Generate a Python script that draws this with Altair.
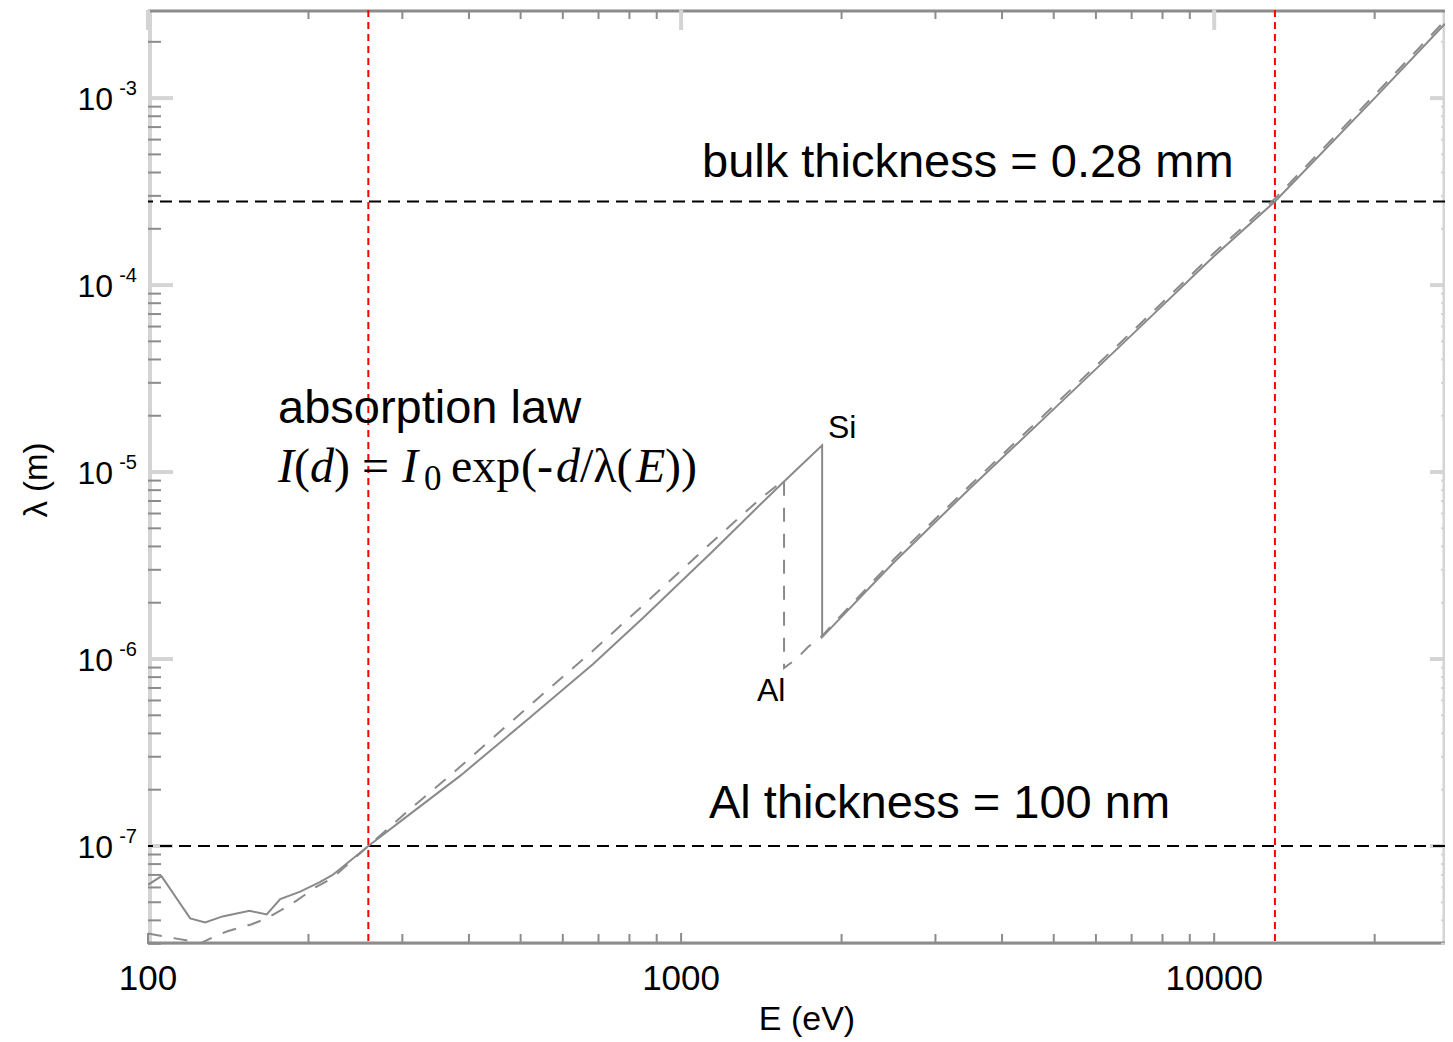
import altair as alt
import pandas as pd

# ---------------- data ----------------
# Si attenuation length (solid grey)
si_E = [100, 106, 120, 128, 138, 155, 167, 177, 193, 210, 222, 259,
        310, 385, 514, 684, 849, 1149, 1400, 1560, 1839,
        1839, 2500, 3500, 5000, 7000, 10000, 13000, 20000, 27100]
si_lam = [6.2e-8, 6.9e-8, 4.1e-8, 3.9e-8, 4.2e-8, 4.5e-8, 4.3e-8, 5.2e-8, 5.7e-8, 6.4e-8, 7.0e-8, 1.0e-7,
          1.48e-7, 2.37e-7, 4.72e-7, 9.4e-7, 1.66e-6, 3.79e-6, 6.6e-6, 8.9e-6, 1.39e-5,
          1.31e-6, 3.26e-6, 8.3e-6, 2.17e-5, 5.4e-5, 1.43e-4, 2.8e-4, 1.0e-3, 2.5e-3]

# Al attenuation length (dashed grey)
al_E = [100, 106, 120, 125, 134, 141, 156, 167, 178, 190, 206, 222, 259,
        310, 385, 514, 684, 849, 1149, 1400, 1560,
        1560, 1651, 1730, 1839,
        2500, 3500, 5000, 7000, 10000, 13000, 20000, 27100]
al_lam = [3.4e-8, 3.3e-8, 3.1e-8, 3.0e-8, 3.3e-8, 3.5e-8, 3.8e-8, 4.1e-8, 4.55e-8, 5.1e-8, 6.0e-8, 6.75e-8, 1.0e-7,
          1.57e-7, 2.65e-7, 5.48e-7, 1.11e-6, 1.94e-6, 4.28e-6, 7.1e-6, 9.1e-6,
          8.95e-7, 1.01e-6, 1.16e-6, 1.33e-6,
          3.39e-6, 8.6e-6, 2.26e-5, 5.6e-5, 1.49e-4, 2.9e-4, 1.04e-3, 2.6e-3]

# reference lines
vline_E = [259, 13000]          # red dotted verticals
hline_lam = [1.0e-7, 2.8e-4]    # black dashed horizontals

# tick labels
x_tick_vals = [100, 1000, 10000]
x_tick_text = ["100", "1000", "10000"]
y_tick_vals = [1e-7, 1e-6, 1e-5, 1e-4, 1e-3]
y_tick_exp = ["-7", "-6", "-5", "-4", "-3"]

# ---------------- layout ----------------
W, H = 1297, 934
X_DOM = [100, 27100]
Y_DOM = [2.99e-8, 2.96e-3]
FONT = "Liberation Sans"
SERIF = "Liberation Serif"

xs = alt.Scale(type="log", domain=X_DOM, nice=False)
ys = alt.Scale(type="log", domain=Y_DOM, nice=False)

x_minor = [m * d for d in [100, 1000, 10000] for m in range(2, 10) if m * d <= X_DOM[1]]
y_minor = [m * d for d in [1e-8, 1e-7, 1e-6, 1e-5, 1e-4, 1e-3] for m in range(2, 10)
           if Y_DOM[0] <= m * d <= Y_DOM[1]]

si_df = pd.DataFrame({"E": si_E, "lam": si_lam, "i": range(len(si_E))})
al_df = pd.DataFrame({"E": al_E, "lam": al_lam, "i": range(len(al_E))})

X = lambda: alt.X("E:Q", scale=xs, axis=None)
Y = lambda: alt.Y("lam:Q", scale=ys, axis=None)

layers = []

# frame
GREY = "#8c8c8c"
LIGHT = "#d4d4d4"
frame = pd.DataFrame({"k": [0]})
layers.append(alt.Chart(frame).mark_rule(color=LIGHT, strokeWidth=4).encode(
    x=alt.value(2), y=alt.value(0), y2=alt.value(H)))
layers.append(alt.Chart(frame).mark_rule(color=LIGHT, strokeWidth=3).encode(
    x=alt.value(W - 1), y=alt.value(0), y2=alt.value(H)))
layers.append(alt.Chart(frame).mark_rule(color=GREY, strokeWidth=3).encode(
    x=alt.value(0), x2=alt.value(W), y=alt.value(1)))
layers.append(alt.Chart(frame).mark_rule(color=GREY, strokeWidth=3).encode(
    x=alt.value(0), x2=alt.value(W), y=alt.value(H - 1)))

# x ticks (bottom and top, inward)
xmin_df = pd.DataFrame({"E": x_minor})
xmaj_df = pd.DataFrame({"E": x_tick_vals})
layers.append(alt.Chart(xmin_df).mark_rule(color=GREY, strokeWidth=2).encode(
    x=X(), y=alt.value(H), y2=alt.value(H - 10)))
layers.append(alt.Chart(xmaj_df).mark_rule(color=GREY, strokeWidth=2).encode(
    x=X(), y=alt.value(H), y2=alt.value(H - 11)))
layers.append(alt.Chart(xmin_df).mark_rule(color=GREY, strokeWidth=2).encode(
    x=X(), y=alt.value(0), y2=alt.value(9)))
layers.append(alt.Chart(xmaj_df).mark_rule(color=LIGHT, strokeWidth=4).encode(
    x=X(), y=alt.value(0), y2=alt.value(20)))

# y ticks (left and right, inward)
ymin_df = pd.DataFrame({"lam": y_minor})
ymaj_df = pd.DataFrame({"lam": y_tick_vals})
layers.append(alt.Chart(ymaj_df).mark_rule(color=LIGHT, strokeWidth=4).encode(
    y=Y(), x=alt.value(0), x2=alt.value(25)))
layers.append(alt.Chart(ymin_df).mark_rule(color=GREY, strokeWidth=2).encode(
    y=Y(), x=alt.value(0), x2=alt.value(13)))
layers.append(alt.Chart(ymaj_df).mark_rule(color=LIGHT, strokeWidth=4).encode(
    y=Y(), x=alt.value(W), x2=alt.value(W - 15)))
layers.append(alt.Chart(ymin_df).mark_rule(color=LIGHT, strokeWidth=2).encode(
    y=Y(), x=alt.value(W), x2=alt.value(W - 4)))

# reference lines
layers.append(alt.Chart(pd.DataFrame({"lam": hline_lam})).mark_rule(
    color="black", strokeWidth=2, strokeDash=[12, 7]).encode(y=Y()))
layers.append(alt.Chart(pd.DataFrame({"E": vline_E})).mark_rule(
    color="#ff0000", strokeWidth=2, strokeDash=[7, 5]).encode(x=X()))

# curves
layers.append(alt.Chart(al_df).mark_line(
    color="#8a8a8a", strokeWidth=2, strokeDash=[14, 12], clip=True).encode(
    x=X(), y=Y(), order="i:Q"))
layers.append(alt.Chart(si_df).mark_line(
    color="#8a8a8a", strokeWidth=2, clip=True).encode(
    x=X(), y=Y(), order="i:Q"))

# tick labels
layers.append(alt.Chart(pd.DataFrame({"E": x_tick_vals, "t": x_tick_text})).mark_text(
    font=FONT, fontSize=35, align="center", baseline="alphabetic", color="black").encode(
    x=X(), y=alt.value(H + 46), text="t:N"))
ylab_df = pd.DataFrame({"lam": y_tick_vals, "e": y_tick_exp})
layers.append(alt.Chart(ylab_df).mark_text(
    font=FONT, fontSize=32, align="right", baseline="alphabetic", dy=12, color="black").encode(
    y=Y(), x=alt.value(-35), text=alt.value("10")))
layers.append(alt.Chart(ylab_df).mark_text(
    font=FONT, fontSize=20, align="right", baseline="alphabetic", dy=-3, color="black").encode(
    y=Y(), x=alt.value(-11), text="e:N"))

# axis titles
layers.append(alt.Chart(frame).mark_text(
    font=FONT, fontSize=34, align="center", baseline="alphabetic", color="black").encode(
    x=alt.value(659), y=alt.value(H + 86), text=alt.value("E (eV)")))
layers.append(alt.Chart(frame).mark_text(
    font=FONT, fontSize=33, align="center", baseline="alphabetic", angle=270, color="black").encode(
    x=alt.value(-101), y=alt.value(470), text=alt.value("λ (m)")))

# annotations
def label(txt, px, py, size=47, font=FONT, style="normal"):
    return alt.Chart(frame).mark_text(
        font=font, fontSize=size, fontStyle=style, align="left", baseline="alphabetic",
        color="black").encode(x=alt.value(px - 148), y=alt.value(py - 10), text=alt.value(txt))

layers.append(label("bulk thickness = 0.28 mm", 702, 177))
layers.append(label("Al thickness = 100 nm", 709, 818))
layers.append(label("absorption law", 278, 423))
layers.append(label("Si", 828, 438, size=32))
layers.append(label("Al", 757, 701, size=32))

formula_parts = [("I", 278, "italic", 48, 482), ("(", 294, "normal", 48, 482),
                 ("d", 310, "italic", 48, 482), (")", 334, "normal", 48, 482),
                 ("=", 362, "normal", 48, 482), ("I", 402, "italic", 48, 482),
                 ("0", 424, "normal", 35, 490), ("exp", 451, "normal", 48, 482),
                 ("(-", 521, "normal", 48, 482), ("d", 556, "italic", 48, 482),
                 ("/λ(", 580, "normal", 48, 482), ("E", 636, "italic", 48, 482),
                 ("))", 665, "normal", 48, 482)]
for t, px, st, sz, py in formula_parts:
    layers.append(label(t, px, py, size=sz, font=SERIF, style=st))

chart = alt.layer(*layers).properties(
    width=W, height=H,
    autosize=alt.AutoSizeParams(type="none"),
    padding={"left": 140, "top": 2, "right": 0, "bottom": 96},
).configure_view(stroke=None).configure(background="white")

chart.save("out.html", embed_options={"renderer": "svg", "actions": False})
